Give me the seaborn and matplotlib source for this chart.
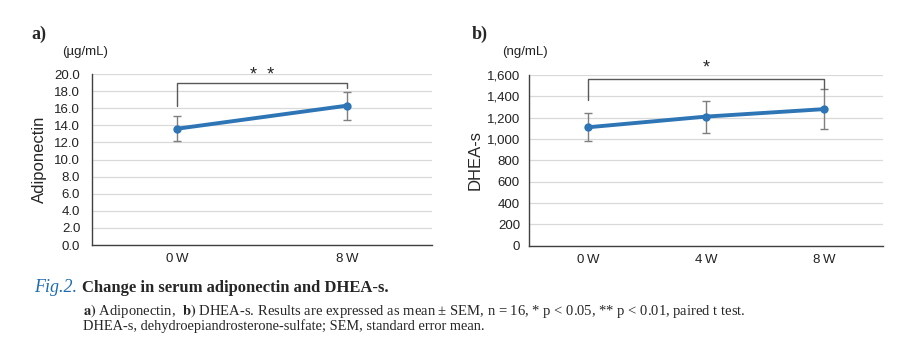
import numpy as np
import pandas as pd
import matplotlib
matplotlib.use('Agg')
import matplotlib.pyplot as plt
import seaborn as sns

# Данные (средние и SEM)
weeks_a = ['0\u2009W', '8\u2009W']
adipo_mean = [13.6, 16.3]
adipo_sem = [1.45, 1.65]

weeks_b = ['0\u2009W', '4\u2009W', '8\u2009W']
dhea_mean = [1110, 1210, 1280]
dhea_sem = [130, 150, 185]

line_color = '#2E75B6'
err_color = '#7F7F7F'
brk_color = '#595959'

sns.set_style('white')
plt.rcParams['font.family'] = ['Liberation Sans', 'DejaVu Sans']

fig = plt.figure(figsize=(9.03, 3.6), dpi=100)
ax_a = fig.add_axes([0.1019, 0.3194, 0.3765, 0.475])
ax_b = fig.add_axes([0.5858, 0.3175, 0.392, 0.4742])


def draw_panel(ax, weeks, mean, sem, ymax, ystep, fmt, ypad):
    df = pd.DataFrame({'pos': np.arange(len(weeks)), 'mean': mean})
    ax.errorbar(df['pos'], df['mean'], yerr=sem, fmt='none', ecolor=err_color,
                elinewidth=1.0, capsize=3, capthick=1.0, zorder=2)
    sns.lineplot(data=df, x='pos', y='mean', ax=ax, color=line_color, lw=2.8,
                 marker='o', markersize=6, markeredgewidth=0, zorder=3)
    ax.set_xlim(-0.5, len(weeks) - 0.5)
    ax.set_ylim(0, ymax)
    ax.set_yticks(np.arange(0, ymax + ystep / 2, ystep))
    ax.yaxis.set_major_formatter(matplotlib.ticker.FuncFormatter(fmt))
    ax.set_xticks(df['pos'])
    ax.set_xticklabels(weeks)
    ax.grid(axis='y', color='#D9D9D9', lw=0.9)
    ax.set_axisbelow(True)
    for s in ['top', 'right']:
        ax.spines[s].set_visible(False)
    for s in ['left', 'bottom']:
        ax.spines[s].set_color('#404040')
        ax.spines[s].set_linewidth(1.0)
    ax.tick_params(axis='both', length=0, labelsize=9.5, colors='#222222')
    ax.tick_params(axis='x', pad=6)
    ax.tick_params(axis='y', pad=ypad)
    ax.set_xlabel('')


# a) Adiponectin
draw_panel(ax_a, weeks_a, adipo_mean, adipo_sem, 20, 2, lambda v, p: f'{v:.1f}', 8.5)
ax_a.set_ylabel('Adiponectin', fontsize=12, labelpad=5)
ax_a.plot([0, 0, 1, 1], [16.3, 19.0, 19.0, 18.4], color=brk_color, lw=1.0, clip_on=False)
ax_a.text(0.5, 19.8, '*  *', ha='center', va='center', fontsize=13, clip_on=False)

# b) DHEA-s
draw_panel(ax_b, weeks_b, dhea_mean, dhea_sem, 1600, 200, lambda v, p: f'{int(v):,}', 6.5)
ax_b.set_ylabel('DHEA-s', fontsize=12, labelpad=3)
ax_b.plot([0, 0, 2, 2], [1366, 1563, 1563, 1466], color=brk_color, lw=1.0, clip_on=False)
ax_b.text(1, 1670, '*', ha='center', va='center', fontsize=13, clip_on=False)

# подписи панелей и единицы
fig.text(0.035, 0.905, 'a)', fontsize=13, fontweight='bold', family='Liberation Serif', va='center')
fig.text(0.522, 0.905, 'b)', fontsize=13, fontweight='bold', family='Liberation Serif', va='center')
fig.text(0.069, 0.855, '(\u00b5g/mL)', fontsize=9.5, va='center', color='#222222')
fig.text(0.556, 0.855, '(ng/mL)', fontsize=9.5, va='center', color='#222222')

# подпись к рисунку
fig.text(0.038, 0.200, 'Fig.2.', fontsize=13, style='italic', color='#1F6BB0',
         family='Liberation Serif', va='center')
fig.text(0.0905, 0.200, 'Change in serum adiponectin and DHEA-s.', fontsize=12,
         fontweight='bold', family='Liberation Serif', va='center')
fig.text(0.092, 0.136, r'$\bf{a)}$ Adiponectin,  $\bf{b)}$ DHEA-s. Results are expressed as mean '
         '\u00b1 SEM, n = 16, * p < 0.05, ** p < 0.01, paired t test.', fontsize=10.5,
         family='Liberation Serif', va='center', math_fontfamily='stix')
fig.text(0.092, 0.094, 'DHEA-s, dehydroepiandrosterone-sulfate; SEM, standard error mean.',
         fontsize=10.4, family='Liberation Serif', va='center')

fig.savefig('out.png', dpi=100)
